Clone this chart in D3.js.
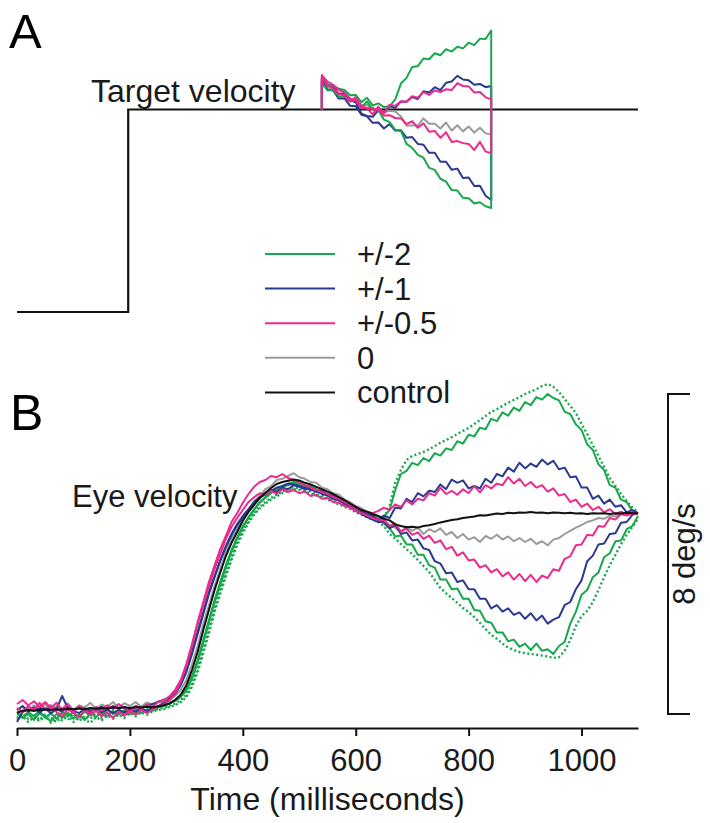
<!DOCTYPE html>
<html><head><meta charset="utf-8">
<script src="https://cdn.jsdelivr.net/npm/d3@7"></script>
<style>
body{margin:0;background:#fff;}
svg{display:block;font-family:"Liberation Sans",Arial,Helvetica,sans-serif;}
</style></head>
<body><svg id="c" width="710" height="823"></svg>
<script>
// ---------------- DATA ----------------
const xTicks = [0, 200, 400, 600, 800, 1000];
const legendLabels = ["+/-2", "+/-1", "+/-0.5", "0", "control"];
const legendColors = ["#16a84c", "#2b3990", "#ec2a8c", "#9a9a9a", "#111111"];

// Panel A: target velocity (arbitrary units)
const targetTimes = [0, 197, 197, 1100];
const targetValues = [0, 0, 10, 10];
const pertStart = 540, pertEnd = 840;
const timeA = d3.range(540, 841, 10);
const greenUpA = [11.50,11.20,11.18,11.02,10.96,10.70,10.72,10.36,10.58,10.20,10.30,10.12,10.16,10.50,11.28,11.56,12.10,12.14,12.52,12.48,12.78,12.68,12.98,12.86,13.10,13.02,13.30,13.18,13.50,13.48,13.90];
const greenDownA = [11.30,10.94,10.98,10.64,10.66,10.40,10.46,10.10,10.40,10.00,9.96,9.50,9.38,9.00,8.94,8.30,8.10,7.76,7.62,7.12,7.02,6.58,6.44,6.02,6.00,5.64,5.62,5.36,5.42,5.22,5.14];
const blueUpA = [11.60,11.22,11.14,10.78,10.80,10.44,10.36,9.80,9.68,9.64,9.96,9.86,10.16,10.08,10.40,10.38,10.62,10.52,10.90,10.84,11.10,10.96,11.32,11.38,11.66,11.48,11.44,11.22,11.26,11.10,11.16];
const blueDownA = [11.40,10.98,10.94,10.54,10.56,10.18,10.16,9.74,9.66,9.34,9.36,9.06,9.28,8.96,8.98,8.60,8.64,8.30,8.26,7.86,7.86,7.42,7.42,7.02,7.08,6.62,6.64,6.22,6.24,5.74,5.53];
const pinkUpA = [11.70,11.38,11.22,10.98,10.84,10.54,10.44,10.08,10.06,9.76,10.14,9.80,10.24,10.18,10.40,10.38,10.66,10.58,10.86,10.72,10.94,10.86,11.00,10.96,11.30,11.16,11.14,10.84,10.86,10.60,10.50];
const pinkDownA = [11.56,11.18,11.04,10.78,10.70,10.40,10.60,10.20,10.06,10.08,9.96,9.70,9.72,9.58,9.56,9.28,9.42,9.10,9.32,8.90,8.94,8.60,8.88,8.40,8.44,8.34,8.30,8.00,8.40,7.92,7.85];
const grayA = [11.50,11.08,11.02,10.74,10.74,10.44,10.44,10.20,10.24,10.00,10.04,9.86,9.94,9.90,9.66,9.20,9.22,9.20,9.56,9.30,9.30,9.06,9.36,8.96,9.22,8.92,9.16,8.86,9.10,8.82,8.76];

// Panel B: eye velocity (deg/s), sampled every 10 ms from 0 to 1100
const timeB = d3.range(0, 1101, 10);
const control = [0.03,0.08,0.10,0.08,0.10,0.12,0.10,0.12,0.11,0.13,0.12,0.14,0.12,0.15,0.13,0.15,0.14,0.16,0.15,0.17,0.15,0.17,0.16,0.18,0.17,0.19,0.22,0.26,0.35,0.48,0.72,1.10,1.55,2.10,2.60,3.10,3.53,3.95,4.28,4.55,4.83,5.05,5.23,5.40,5.53,5.65,5.75,5.80,5.83,5.86,5.84,5.78,5.74,5.68,5.62,5.56,5.50,5.42,5.35,5.26,5.18,5.10,5.06,5.00,4.95,4.88,4.84,4.74,4.70,4.67,4.68,4.66,4.70,4.72,4.75,4.79,4.82,4.85,4.87,4.90,4.92,4.94,4.97,4.96,4.99,5.01,5.00,5.03,5.02,5.04,5.03,5.05,5.03,5.04,5.02,5.04,5.03,5.02,5.03,5.01,5.02,5.00,5.02,5.01,5.02,5.00,5.02,5.01,5.03,5.02,5.02];
const gray0 = [0.10,0.18,0.05,0.22,0.12,0.25,0.08,0.20,0.14,0.26,0.10,0.22,0.16,0.28,0.12,0.24,0.18,0.30,0.15,0.27,0.20,0.30,0.18,0.29,0.22,0.32,0.28,0.35,0.45,0.60,0.85,1.25,1.70,2.25,2.72,3.20,3.62,4.05,4.40,4.62,4.92,5.10,5.32,5.45,5.62,5.70,5.85,5.88,5.95,6.02,5.92,5.88,5.80,5.78,5.66,5.62,5.52,5.48,5.36,5.30,5.20,5.15,5.05,5.02,4.92,4.86,4.72,4.66,4.55,4.68,4.58,4.66,4.50,4.62,4.55,4.64,4.48,4.55,4.40,4.50,4.36,4.42,4.30,4.45,4.38,4.48,4.36,4.44,4.32,4.40,4.30,4.38,4.25,4.32,4.22,4.36,4.40,4.50,4.58,4.66,4.72,4.80,4.84,4.90,4.88,4.96,4.94,5.00,4.98,5.03,5.02];
const pinkUp = [0.25,0.35,0.22,0.32,0.18,0.30,0.15,0.28,0.10,0.24,0.05,0.20,0.12,0.02,0.18,0.08,0.22,0.12,0.25,0.15,0.05,0.20,0.10,0.24,0.18,0.30,0.34,0.44,0.60,0.85,1.25,1.75,2.30,2.80,3.30,3.72,4.12,4.45,4.80,5.02,5.28,5.50,5.68,5.80,5.85,5.95,5.92,6.00,5.90,5.85,5.80,5.72,5.66,5.60,5.55,5.50,5.42,5.38,5.30,5.22,5.15,5.10,5.05,5.02,5.08,5.16,5.10,5.24,5.18,5.34,5.24,5.38,5.34,5.52,5.46,5.66,5.50,5.58,5.48,5.62,5.52,5.70,5.54,5.72,5.64,5.76,5.72,5.92,5.76,5.88,5.70,5.80,5.66,5.72,5.56,5.64,5.46,5.50,5.30,5.36,5.18,5.26,5.10,5.18,5.04,5.12,5.00,5.06,4.98,5.02,5.00];
const pinkDown = [0.15,0.05,0.20,0.10,0.28,0.12,0.22,0.05,-0.05,0.12,0.02,-0.08,0.10,-0.02,0.08,-0.06,0.04,-0.10,0.06,-0.04,0.08,-0.02,0.10,0.02,0.12,0.18,0.24,0.34,0.52,0.80,1.20,1.70,2.25,2.72,3.20,3.62,4.00,4.38,4.68,4.90,5.10,5.30,5.42,5.52,5.48,5.58,5.50,5.62,5.55,5.60,5.52,5.56,5.45,5.48,5.38,5.40,5.30,5.28,5.20,5.16,5.08,5.02,4.96,4.90,4.86,4.84,4.70,4.76,4.56,4.64,4.48,4.54,4.38,4.46,4.28,4.34,4.12,4.18,3.96,4.04,3.84,3.86,3.66,3.72,3.54,3.62,3.44,3.54,3.36,3.50,3.32,3.48,3.30,3.46,3.40,3.62,3.58,3.88,3.94,4.22,4.24,4.48,4.46,4.70,4.68,4.90,4.86,5.00,4.96,5.02,5.02];
const blueUp = [-0.20,0.05,0.12,0.08,0.15,0.10,0.18,0.12,0.45,0.15,0.10,0.16,0.08,0.14,0.10,0.18,0.12,0.20,0.14,0.18,0.12,0.20,0.15,0.22,0.25,0.30,0.36,0.40,0.55,0.75,1.10,1.55,2.05,2.55,3.05,3.45,3.85,4.20,4.50,4.75,4.95,5.12,5.30,5.42,5.48,5.60,5.55,5.66,5.62,5.72,5.68,5.62,5.66,5.55,5.58,5.48,5.45,5.36,5.30,5.22,5.15,5.06,5.02,4.95,4.85,4.96,4.90,5.16,5.14,5.38,5.30,5.52,5.44,5.58,5.55,5.74,5.62,5.86,5.78,5.84,5.64,5.70,5.64,5.88,5.78,6.00,5.94,6.16,6.06,6.28,6.14,6.26,6.18,6.36,6.24,6.33,6.12,6.16,5.92,5.94,5.66,5.66,5.38,5.46,5.26,5.36,5.18,5.22,5.04,5.10,5.02];
const blueDown = [0.10,0.20,0.06,0.16,0.04,0.14,0.02,0.12,0.06,0.18,0.08,0.02,0.14,0.06,0.16,0.04,0.12,0.02,0.10,0.04,0.12,0.06,0.14,0.08,0.16,0.20,0.28,0.36,0.50,0.72,1.05,1.50,2.00,2.50,3.00,3.42,3.82,4.18,4.48,4.72,4.92,5.10,5.26,5.40,5.52,5.58,5.66,5.70,5.76,5.74,5.70,5.66,5.60,5.58,5.50,5.46,5.38,5.34,5.26,5.18,5.08,5.00,4.92,4.86,4.80,4.80,4.64,4.72,4.50,4.54,4.34,4.36,4.14,4.10,3.82,3.76,3.52,3.54,3.30,3.34,3.12,3.12,2.88,2.88,2.64,2.72,2.56,2.64,2.48,2.54,2.38,2.52,2.34,2.46,2.26,2.36,2.42,2.72,2.80,3.12,3.34,3.82,3.96,4.24,4.26,4.50,4.52,4.78,4.80,4.98,5.02];
const greenUp = [0.00,-0.08,0.05,-0.05,0.08,-0.10,0.02,-0.12,0.05,-0.06,0.04,-0.08,0.06,-0.04,0.08,-0.02,0.10,0.00,0.12,0.02,0.10,0.04,0.14,0.06,0.14,0.18,0.22,0.28,0.35,0.45,0.62,0.95,1.35,1.85,2.35,2.85,3.30,3.72,4.10,4.42,4.70,4.92,5.12,5.30,5.42,5.55,5.62,5.70,5.75,5.80,5.78,5.72,5.70,5.62,5.58,5.50,5.46,5.38,5.32,5.24,5.16,5.10,5.04,4.98,4.92,4.94,5.10,5.60,6.00,6.08,6.28,6.22,6.40,6.32,6.52,6.46,6.64,6.60,6.82,6.76,6.98,6.94,7.16,7.12,7.38,7.32,7.54,7.46,7.66,7.58,7.80,7.72,7.92,7.86,8.00,7.90,7.84,7.56,7.50,7.24,7.10,6.74,6.60,6.24,6.10,5.72,5.66,5.36,5.30,5.08,5.02];
const greenDown = [0.05,-0.10,0.00,-0.15,0.02,-0.08,-0.18,0.00,-0.10,0.04,-0.12,-0.02,-0.15,0.02,-0.08,0.05,-0.05,0.08,-0.02,0.10,0.00,0.12,0.02,0.12,0.08,0.16,0.20,0.26,0.32,0.42,0.58,0.88,1.28,1.78,2.28,2.78,3.22,3.65,4.05,4.38,4.66,4.90,5.10,5.28,5.40,5.52,5.60,5.68,5.72,5.76,5.74,5.70,5.66,5.60,5.54,5.48,5.42,5.36,5.28,5.20,5.12,5.06,5.00,4.94,4.88,4.76,4.64,4.44,4.46,4.24,4.24,3.98,3.98,3.72,3.66,3.36,3.36,3.12,3.14,2.88,2.88,2.60,2.58,2.32,2.28,2.04,2.04,1.82,1.86,1.68,1.76,1.60,1.76,1.58,1.62,1.50,1.70,1.80,2.26,2.56,2.98,3.10,3.42,3.54,3.92,4.02,4.32,4.34,4.62,4.70,4.95];
const greenUpDots = [-0.10,0.02,-0.12,-0.02,-0.15,0.00,-0.10,-0.20,-0.05,-0.15,0.00,-0.18,-0.05,-0.12,0.02,-0.10,0.00,-0.08,0.05,-0.05,0.08,-0.02,0.10,0.04,0.10,0.12,0.16,0.20,0.26,0.34,0.48,0.75,1.12,1.60,2.10,2.62,3.08,3.52,3.92,4.28,4.58,4.82,5.02,5.18,5.30,5.40,5.48,5.56,5.62,5.66,5.64,5.60,5.56,5.50,5.46,5.40,5.36,5.28,5.22,5.16,5.08,5.02,4.96,4.92,4.86,4.90,5.20,5.78,6.10,6.35,6.45,6.50,6.55,6.62,6.70,6.78,6.85,6.92,7.00,7.08,7.15,7.25,7.35,7.45,7.55,7.62,7.70,7.78,7.85,7.92,8.00,8.06,8.12,8.20,8.25,8.18,8.05,7.88,7.70,7.52,7.25,7.00,6.72,6.45,6.18,5.90,5.70,5.50,5.32,5.16,5.04];
const greenDownDots = [-0.15,-0.05,-0.20,-0.08,-0.18,-0.04,-0.22,-0.10,-0.16,-0.02,-0.20,-0.06,-0.14,-0.22,-0.08,-0.16,-0.04,-0.12,-0.02,-0.10,0.02,-0.06,0.04,-0.02,0.06,0.10,0.12,0.18,0.22,0.30,0.42,0.68,1.05,1.52,2.02,2.55,3.00,3.45,3.85,4.22,4.52,4.78,4.98,5.14,5.26,5.36,5.44,5.52,5.58,5.62,5.60,5.56,5.52,5.46,5.42,5.36,5.30,5.24,5.18,5.12,5.04,4.98,4.92,4.86,4.80,4.70,4.50,4.38,4.25,4.12,4.00,3.85,3.70,3.55,3.35,3.15,3.02,2.90,2.78,2.65,2.55,2.42,2.28,2.12,1.98,1.88,1.76,1.66,1.60,1.55,1.52,1.50,1.48,1.46,1.44,1.40,1.42,1.58,1.85,2.20,2.45,2.58,2.80,3.10,3.42,3.72,3.98,4.25,4.48,4.68,4.88];
const scaleBar = [0, 8];

// ---------------- DRAW ----------------
const svg = d3.select("#c");
const FONT = 31;
const x = d3.scaleLinear().domain([0, 1100]).range([17, 638]);
const yA = d3.scaleLinear().domain([0, 10]).range([312, 109.5]);
const yB = d3.scaleLinear().domain([0, 8]).range([714, 394]);

// Panel labels
svg.append("text").attr("x", 9).attr("y", 48).attr("font-size", 49).text("A");
svg.append("text").attr("x", 10).attr("y", 430).attr("font-size", 50).text("B");

// Panel A
const lineA = d3.line().x(d => x(d[0])).y(d => yA(d[1]));
svg.append("path")
  .datum(targetTimes.map((t, i) => [t, targetValues[i]]))
  .attr("d", lineA).attr("fill", "none").attr("stroke", "#111").attr("stroke-width", 2.2);

const hi = targetValues[targetValues.length - 1];
const seriesA = [
  {v: grayA, c: legendColors[3]},
  {v: blueUpA, c: legendColors[1]}, {v: blueDownA, c: legendColors[1]},
  {v: greenUpA, c: legendColors[0]}, {v: greenDownA, c: legendColors[0]},
  {v: pinkUpA, c: legendColors[2]}, {v: pinkDownA, c: legendColors[2]}
];
seriesA.forEach(s => {
  const pts = [[pertStart, hi]].concat(timeA.map((t, i) => [t, s.v[i]])).concat([[pertEnd, hi]]);
  svg.append("path").datum(pts).attr("d", lineA)
    .attr("fill", "none").attr("stroke", s.c).attr("stroke-width", 2).attr("stroke-linejoin", "round");
});
svg.append("text").attr("x", 91).attr("y", 102).attr("font-size", 32).attr("fill", "#1a1a1a").text("Target velocity");

// Legend
legendLabels.forEach((lab, i) => {
  const yy = 254 + i * 34.6;
  svg.append("line").attr("x1", 265).attr("x2", 335).attr("y1", yy).attr("y2", yy)
    .attr("stroke", legendColors[i]).attr("stroke-width", 2);
  svg.append("text").attr("x", 357).attr("y", yy + 11).attr("font-size", FONT).attr("fill", "#1a1a1a").text(lab);
});

// Panel B
const lineB = d3.line().x((d, i) => x(timeB[i])).y(d => yB(d));
const seriesB = [
  {v: greenUpDots, c: legendColors[0], dash: "2,2.5", w: 2.4},
  {v: greenDownDots, c: legendColors[0], dash: "2,2.5", w: 2.4},
  {v: greenUp, c: legendColors[0]}, {v: greenDown, c: legendColors[0]},
  {v: gray0, c: legendColors[3]},
  {v: blueUp, c: legendColors[1]}, {v: blueDown, c: legendColors[1]},
  {v: pinkUp, c: legendColors[2]}, {v: pinkDown, c: legendColors[2]},
  {v: control, c: legendColors[4]}
];
seriesB.forEach(s => {
  svg.append("path").datum(s.v).attr("d", lineB)
    .attr("fill", "none").attr("stroke", s.c).attr("stroke-width", s.w || 2)
    .attr("stroke-dasharray", s.dash || null).attr("stroke-linejoin", "round");
});
svg.append("text").attr("x", 72).attr("y", 507).attr("font-size", FONT).attr("fill", "#1a1a1a").text("Eye velocity");

// Scale bar
const sbx = 668;
svg.append("path")
  .attr("d", `M${sbx + 22},${yB(scaleBar[1])}H${sbx}V${yB(scaleBar[0])}H${sbx + 22}`)
  .attr("fill", "none").attr("stroke", "#111").attr("stroke-width", 2);
svg.append("text")
  .attr("transform", `translate(695,${(yB(scaleBar[0]) + yB(scaleBar[1])) / 2}) rotate(-90)`)
  .attr("text-anchor", "middle").attr("font-size", FONT).attr("fill", "#1a1a1a").text("8 deg/s");

// X axis
const ax = svg.append("g").attr("transform", "translate(0,728)")
  .call(d3.axisBottom(x).tickValues(xTicks).tickFormat(d3.format("d"))
    .tickSize(8).tickSizeOuter(0).tickPadding(13));
ax.select(".domain").attr("stroke", "#111").attr("stroke-width", 2.2);
ax.selectAll(".tick line").attr("stroke", "#111").attr("stroke-width", 2);
ax.selectAll(".tick text").attr("font-size", FONT).attr("fill", "#1a1a1a")
  .attr("font-family", "Liberation Sans, Arial, sans-serif");
svg.append("text").attr("x", x(550)).attr("y", 810).attr("text-anchor", "middle")
  .attr("font-size", 32).attr("fill", "#1a1a1a").text("Time (milliseconds)");
</script></body></html>
